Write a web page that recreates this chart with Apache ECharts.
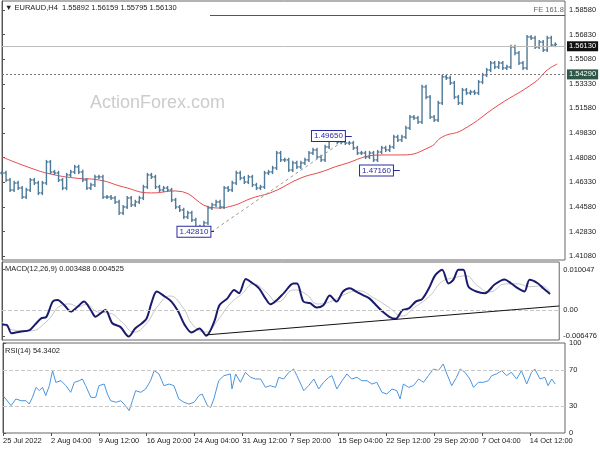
<!DOCTYPE html>
<html>
<head>
<meta charset="utf-8">
<script src="https://cdn.jsdelivr.net/npm/echarts@6/dist/echarts.min.js"></script>
<style>html,body{margin:0;padding:0;background:#fff}#chart{width:600px;height:450px}</style>
</head>
<body>
<div id="chart"></div>
<script>
// closes, one coarse bar each (~4px apart)
var closes = [
 1.4699,1.4649,1.4578,1.4628,1.4592,1.4528,1.4578,1.4649,1.4628,1.4557,1.4628,1.4777,1.4706,1.4699,1.4649,1.4592,1.4685,1.4706,1.4742,1.4706,1.4649,1.4592,1.4614,1.4671,1.4671,1.4528,1.4528,1.4521,1.4493,1.4415,1.4457,1.4521,1.4472,1.4493,1.4521,
 1.4600,1.4685,1.4671,1.4600,1.4578,1.4592,1.4578,1.4507,1.4457,1.4436,1.4386,1.4415,1.4365,1.4315,1.4308,1.4344,1.4450,1.4472,1.4493,1.4457,1.4592,1.4578,1.4628,1.4699,1.4663,1.4635,1.4671,1.4614,1.4592,1.4600,1.4699,1.4706,1.4735,1.4841,1.4792,
 1.4792,1.4720,1.4770,1.4742,1.4770,1.4792,1.4841,1.4863,1.4813,1.4792,1.4884,1.4934,1.4934,1.4919,1.4919,1.4912,1.4912,1.4877,1.4841,1.4841,1.4813,1.4841,1.4792,1.4848,1.4877,1.4863,1.4884,1.4955,1.4934,1.4955,1.5019,1.5097,1.5090,1.5062,1.5311,1.5239,
 1.5097,1.5076,1.5197,1.5382,1.5375,1.5339,1.5239,1.5197,1.5289,1.5268,1.5275,1.5268,1.5346,1.5396,1.5431,1.5481,1.5453,1.5481,1.5446,1.5453,1.5595,1.5552,1.5481,1.5446,1.5666,1.5659,1.5595,1.5630,1.5574,1.5659,1.5609,1.5613
];
// red moving average [bar, price]
var ma = [[0,1.4813],[7,1.4735],[12,1.4692],[18,1.4663],[24,1.4649],[30,1.4600],[37,1.4557],[43,1.4571],[53,1.4450],[57,1.4465],[62,1.4521],[67,1.4564],[74,1.4663],[79,1.4706],[84,1.4756],[94,1.4827],[99,1.4827],[106,1.4884],[109,1.4955],[114,1.5005],[123,1.5183],[132,1.5346],[135,1.5431],[137.5,1.5474]];
var macd = [[0,-0.0036],[1.2,-0.0037],[2.4,-0.0058],[4.5,-0.0054],[6.9,-0.0050],[8.2,-0.0037],[9.8,-0.0021],[11.1,-0.0017],[12.7,0.0021],[13.9,0.0025],[15.6,0.0012],[17.2,-0.0004],[18.9,0.0008],[20.5,0.0021],[22.2,0.0000],[23.4,-0.0017],[24.7,-0.0008],[25.9,0.0000],[27.6,-0.0033],[29.6,-0.0042],[31.7,-0.0066],[33.3,-0.0046],[35,-0.0033],[36.2,-0.0021],[37.5,0.0021],[38.7,0.0046],[40.8,0.0033],[42.4,0.0021],[44.1,-0.0004],[45.7,-0.0037],[47.4,-0.0056],[49.4,-0.0046],[51.1,-0.0064],[53.1,-0.0029],[54.4,0.0012],[56.4,0.0029],[58.1,0.0050],[59.3,0.0042],[61,0.0077],[62.2,0.0070],[64.3,0.0054],[65.9,0.0029],[67.2,0.0014],[68.8,0.0025],[70.5,0.0042],[72.9,0.0066],[73.8,0.0066],[75.4,0.0021],[77.1,0.0017],[78.7,0.0006],[80.4,0.0012],[82,0.0036],[83.7,0.0021],[85.3,0.0046],[87,0.0054],[88.6,0.0046],[90.3,0.0037],[91.9,0.0029],[93.6,0.0012],[95.2,-0.0004],[96.9,-0.0017],[98.5,-0.0022],[100.2,0.0000],[101.8,0.0004],[103.5,0.0021],[105.1,0.0027],[106.8,0.0054],[108.4,0.0087],[110.1,0.0100],[111.7,0.0066],[112.9,0.0075],[114.2,0.0100],[115.4,0.0100],[116.7,0.0058],[118.7,0.0046],[120.8,0.0042],[123.3,0.0064],[125.7,0.0076],[127.4,0.0066],[129.1,0.0054],[130.7,0.0046],[132,0.0075],[134.1,0.0066],[135.4,0.0054],[137.1,0.0040]];
var signal = [[0,-0.0030],[3,-0.0050],[7,-0.0052],[11,-0.0030],[15,0.0012],[17,0.0015],[19,0.0008],[21,0.0014],[24,-0.0005],[27,-0.0008],[30,-0.0030],[33,-0.0055],[36,-0.0035],[39,0.0010],[42,0.0035],[45,0.0010],[48,-0.0040],[51,-0.0055],[54,-0.0025],[57,0.0015],[60,0.0040],[63,0.0065],[66,0.0045],[69,0.0020],[73,0.0050],[76,0.0040],[79,0.0015],[82,0.0020],[86,0.0040],[89,0.0048],[93,0.0030],[97,0.0005],[100,-0.0015],[103,0.0005],[107,0.0035],[110,0.0070],[113,0.0080],[116,0.0085],[119,0.0060],[122,0.0045],[126,0.0065],[129,0.0065],[132,0.0058],[135,0.0060],[137.1,0.0045]];
var rsi = [[0,41.5],[0.7,37.8],[2,30.4],[3.2,37.8],[4.5,35.9],[5.7,35.9],[6.5,32.2],[7.3,39.6],[8.2,50.7],[9,47],[9.8,50.7],[10.6,41.5],[11.5,52.6],[12.3,69.3],[13.1,56.3],[14.4,58.1],[15.6,52.6],[16.8,45.2],[17.7,56.3],[18.9,58.1],[19.7,60],[20.5,52.6],[21.8,39.6],[23,39.6],[23.8,52.6],[25.1,54.4],[25.9,43.3],[26.7,35.9],[28,34.1],[29.2,35.9],[30.4,30.4],[31.3,24.8],[32.1,35.9],[32.9,47],[34.2,45.2],[35.4,48.9],[36.6,58.1],[37.5,69.3],[38.7,65.6],[39.9,52.6],[41.2,54.4],[42.4,52.6],[43.6,37.8],[44.9,34.1],[46.1,32.2],[47.4,34.1],[48.6,41.5],[49.4,43.3],[50.7,30.4],[51.5,28.5],[52.3,37.8],[53.5,58.1],[54.8,63.7],[56.4,65.6],[56.8,48.9],[57.7,65.6],[58.9,56.3],[60.1,67.4],[61.4,61.9],[62.6,60],[63.9,60],[65.1,50.7],[66.3,52.6],[67.6,50.7],[68.4,61.9],[69.6,60],[70.9,67.4],[72.1,71.1],[72.9,63.7],[74.6,47],[75.8,52.6],[77.1,60],[78.3,48.9],[79.5,56.3],[80.8,61.9],[81.6,63.7],[82.8,48.9],[84.1,58.1],[85.3,65.6],[86.5,60],[87.8,61.9],[89,58.1],[90.3,58.1],[91.5,54.4],[92.7,56.3],[94,45.2],[95.2,43.3],[96.5,48.9],[97.7,47],[98.5,37.8],[99.3,54.4],[100.6,50.7],[101.8,52.6],[103.1,60],[104.3,56.3],[105.5,63.7],[106.8,71.1],[108,69.3],[109.2,76.7],[110.1,65.6],[111.3,52.6],[112.5,61.9],[113.4,71.1],[114.6,67.4],[115.8,60],[116.7,50.7],[117.9,56.3],[119.1,56.3],[120.4,58.1],[121.2,63.7],[122.4,65.6],[123.7,69.3],[124.9,63.7],[126.1,67.4],[127.4,60],[128.6,69.3],[129.9,54.4],[131.1,67.4],[131.9,71.1],[133.2,60],[134.4,61.9],[135.2,52.6],[136.1,60],[137,54.3]];
var priceTicks = [1.4108,1.4283,1.4458,1.4633,1.4808,1.4983,1.5158,1.5333,1.5508,1.5683,1.5858];
var macdTicks = [-0.006476,0,0.010047];
var rsiTicks = [0,30,70,100];
var xLabels = ['25 Jul 2022','2 Aug 04:00','9 Aug 12:00','16 Aug 20:00','24 Aug 04:00','31 Aug 12:00','7 Sep 20:00','15 Sep 04:00','22 Sep 12:00','29 Sep 20:00','7 Oct 04:00','14 Oct 12:00'];
var xStep = 11.88;
var lastPrice = 1.5613, support = 1.5429, fe = 1.5822;

var FONT = 'Liberation Sans';
var ohlc = [];
for (var i = 0; i < closes.length; i++) {
  var o = i > 0 ? closes[i-1] : closes[i], c = closes[i];
  ohlc.push([i, o, c, Math.min(o,c) - 0.0015, Math.max(o,c) + 0.0015]);
}
var xTicks = xLabels.map(function(l, k){ return k * xStep; });

var myChart = echarts.init(document.getElementById('chart'));
function xAx(idx, show) {
  return {type:'value', gridIndex:idx, min:0, max:139.4,
    axisLine:{show:false}, splitLine:{show:false},
    axisTick:{show:show, customValues:xTicks, length:3, lineStyle:{color:'#555'}},
    axisLabel:{show:show, customValues:xTicks, align:'left', margin:4, fontFamily:FONT, fontSize:7.5, color:'#222',
      formatter:function(v){ var k = Math.round(v / xStep); return xLabels[k] || ''; }}};
}
function yAx(idx, min, max, ticks, fmt) {
  return {type:'value', gridIndex:idx, position:'right', min:min, max:max, scale:true,
    axisLine:{show:true, lineStyle:{color:'#555'}}, splitLine:{show:false},
    axisTick:{show:true, customValues:ticks, length:3, lineStyle:{color:'#555'}},
    axisLabel:{customValues:ticks, margin:4, fontFamily:FONT, fontSize:7.5, color:'#222', formatter:fmt}};
}
function hline(v, type) {
  return {yAxis:v, lineStyle:{color:'#c8c8c8', type:type||'dashed', width:1}, label:{show:false}};
}
function noteLine(x1, x2, p, text) {
  return [{coord:[x1,p], lineStyle:{color:'#2a2aa0', type:'solid', width:1},
      label:{show:true, position:'start', distance:0, formatter:text, fontFamily:FONT, fontSize:8, color:'#2a2aa0',
      backgroundColor:'#fff', borderColor:'#2a2aa0', borderWidth:1, padding:[1,2]}},
    {coord:[x2,p]}];
}

var option = {
  animation:false,
  textStyle:{fontFamily:FONT},
  graphic:[
    {type:'text', left:90, top:94, style:{text:'ActionForex.com', font:'18px "Liberation Sans"', fill:'#cccccc'}},
    {type:'text', left:5, top:4, style:{text:'\u25BC EURAUD,H4  1.55892 1.56159 1.55795 1.56130', font:'7.5px "Liberation Sans"', fill:'#222'}},
    {type:'text', left:5, top:265, style:{text:'MACD(12,26,9) 0.003488 0.004525', font:'7.5px "Liberation Sans"', fill:'#222'}},
    {type:'text', left:5, top:347, style:{text:'RSI(14) 54.3402', font:'7.5px "Liberation Sans"', fill:'#222'}}
  ],
  grid:[
    {left:2, right:35, top:1, height:259, show:true, borderColor:'#666', borderWidth:1},
    {left:2, right:35, top:262, height:78, show:true, borderColor:'#666', borderWidth:1},
    {left:2, right:35, top:343, height:90, show:true, borderColor:'#666', borderWidth:1}
  ],
  xAxis:[xAx(0,false), xAx(1,false), xAx(2,true)],
  yAxis:[
    yAx(0, 1.4080, 1.5922, priceTicks, function(v){ return v.toFixed(5); }),
    yAx(1, -0.00747, 0.01195, macdTicks, function(v){ return v === 0 ? '0.00' : v.toFixed(6); }),
    yAx(2, 0, 100, rsiTicks, function(v){ return String(v); })
  ],
  series:[
    {type:'line', xAxisIndex:0, yAxisIndex:0, data:ma, smooth:true, showSymbol:false, lineStyle:{color:'#e8474a', width:1}, silent:true, z:2},
    {type:'custom', xAxisIndex:0, yAxisIndex:0, data:ohlc, encode:{x:0, y:[1,2,3,4]}, z:3,
      renderItem:function(params, api){
        var x = api.value(0);
        var o = api.coord([x, api.value(1)]), c = api.coord([x, api.value(2)]);
        var l = api.coord([x, api.value(3)]), h = api.coord([x, api.value(4)]);
        var st = {stroke:'#4f7a99', lineWidth:1.4};
        return {type:'group', children:[
          {type:'line', shape:{x1:h[0], y1:h[1], x2:l[0], y2:l[1]}, style:st},
          {type:'line', shape:{x1:o[0]-1.8, y1:o[1], x2:o[0], y2:o[1]}, style:st},
          {type:'line', shape:{x1:c[0], y1:c[1], x2:c[0]+1.8, y2:c[1]}, style:st}
        ]};
      },
      markLine:{silent:true, symbol:'none', data:[
        {yAxis:lastPrice, lineStyle:{color:'#bdbdbd', type:'solid', width:1},
          label:{show:true, position:'end', distance:2, formatter:'1.56130', color:'#fff', backgroundColor:'#111', padding:[1,2], fontSize:7.5}},
        {yAxis:support, lineStyle:{color:'#777', type:[2,2], width:1},
          label:{show:true, position:'end', distance:2, formatter:'1.54290', color:'#fff', backgroundColor:'#2f5747', padding:[1,2], fontSize:7.5}},
        [{coord:[51.5,fe], lineStyle:{color:'#555', type:'solid', width:1},
          label:{show:true, position:'insideEndTop', formatter:'FE 161.8', color:'#666', fontSize:7.5, distance:1}}, {coord:[139.4,fe]}],
        [{coord:[51.9,1.4281], lineStyle:{color:'#999', type:[3,3], width:1}, label:{show:false}}, {coord:[84.9,1.4934]}],
        noteLine(51.6, 52.5, 1.4281, '1.42810'),
        noteLine(84.9, 86.6, 1.4962, '1.49650'),
        noteLine(96.8, 98.5, 1.4716, '1.47160')
      ]}
    },
    {type:'line', xAxisIndex:1, yAxisIndex:1, data:signal, smooth:true, showSymbol:false, lineStyle:{color:'#c4c4c4', width:1}, silent:true,
      markLine:{silent:true, symbol:'none', data:[
        hline(0),
        [{coord:[51.1,-0.0062], lineStyle:{color:'#111', type:'solid', width:1}, label:{show:false}}, {coord:[139.4,0.0010]}]
      ]}},
    {type:'line', xAxisIndex:1, yAxisIndex:1, data:macd, smooth:0.3, showSymbol:false, lineStyle:{color:'#1a1a6e', width:2}, silent:true},
    {type:'line', xAxisIndex:2, yAxisIndex:2, data:rsi, showSymbol:false, lineStyle:{color:'#4a95df', width:1}, silent:true,
      markLine:{silent:true, symbol:'none', data:[hline(70), hline(30)]}}
  ]
};
myChart.setOption(option);
</script>
</body>
</html>
